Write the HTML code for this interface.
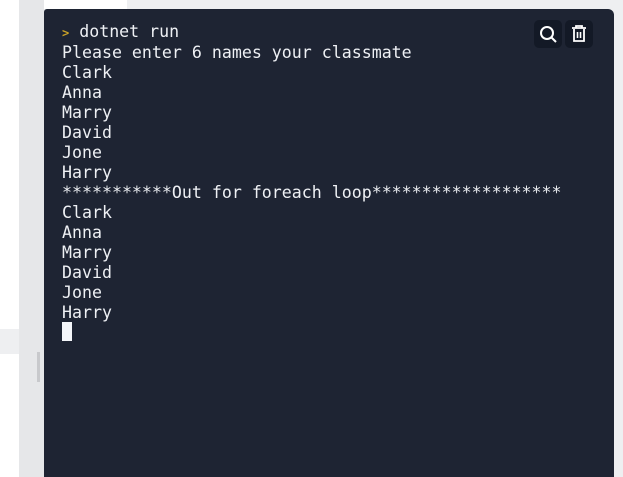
<!DOCTYPE html>
<html><head><style>
body{margin:0;width:623px;height:477px;background:#eeeff1;position:relative;overflow:hidden}
.l{position:absolute;left:0;top:0;width:19px;height:477px;background:#fff}
.lb{position:absolute;left:0;top:329px;width:19px;height:25px;background:#eeeff1}
.g{position:absolute;left:19px;top:0;width:25px;height:477px;background:#e6e7e9}
.sb{position:absolute;left:37px;top:352px;width:3px;height:30px;background:#c8c9cc}
.tw{position:absolute;left:44px;top:0;width:83px;height:9px;background:#fff}
.t{position:absolute;left:44px;top:9px;width:570px;height:468px;background:#1e2433;border-radius:3px 6px 0 0}
pre{position:absolute;left:62px;top:22px;margin:0;font-family:"DejaVu Sans Mono","Liberation Mono",monospace;font-size:16.6px;line-height:20px;color:#eef0f4}
.p{color:#c9a227;font-size:12px;font-weight:bold}
.cur{position:absolute;left:62px;top:322px;width:10px;height:19px;background:#f4f6fa}
.btn{position:absolute;top:20px;width:28px;height:28px;background:#131926;border-radius:5px}
</style></head><body>
<div class="l"></div><div class="lb"></div><div class="g"></div><div class="sb"></div><div class="tw"></div>
<div class="t"></div>
<pre><span class="p">&gt;</span> dotnet run
Please enter 6 names your classmate
Clark
Anna
Marry
David
Jone
Harry
***********Out for foreach loop*******************
Clark
Anna
Marry
David
Jone
Harry</pre>
<div class="cur"></div>
<div class="btn" style="left:534px"><svg width="28" height="28"><circle cx="13" cy="13" r="6" stroke="#fff" stroke-width="2" fill="none"/><line x1="17.5" y1="17.5" x2="22" y2="22" stroke="#fff" stroke-width="2"/></svg></div>
<div class="btn" style="left:565px"><svg width="28" height="28"><path d="M7 8h14M11 8V6h6v2M9 9v12h10V9" stroke="#fff" stroke-width="1.8" fill="none"/><path d="M12.5 12v6M15.5 12v6" stroke="#fff" stroke-width="1.6"/></svg></div>
</body></html>
